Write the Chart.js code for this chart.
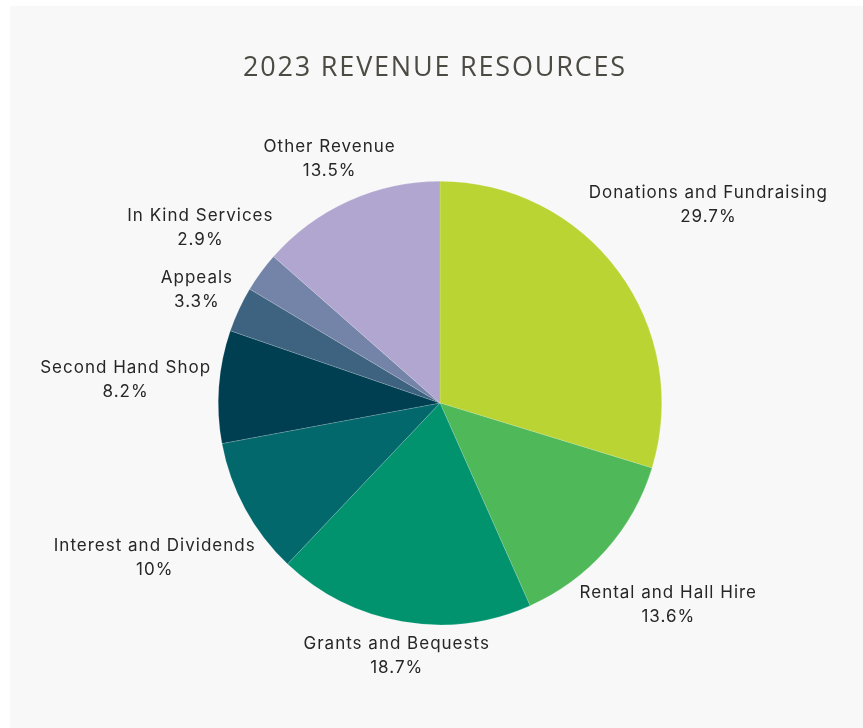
<!DOCTYPE html>
<html>
<head>
<meta charset="utf-8">
<script src="https://cdn.jsdelivr.net/npm/chart.js@4.4.1/dist/chart.umd.min.js"></script>
<style>
  html, body { margin: 0; padding: 0; background: #ffffff; }
  #panel {
    position: absolute; left: 10px; top: 6px;
    width: 853px; height: 722px;
    background: #f8f8f8;
  }
  canvas { display: block; }
</style>
</head>
<body>
<div id="panel"><canvas id="revenueChart" width="853" height="722"></canvas></div>
<script>
const categories = [
  "Donations and Fundraising",
  "Rental and Hall Hire",
  "Grants and Bequests",
  "Interest and Dividends",
  "Second Hand Shop",
  "Appeals",
  "In Kind Services",
  "Other Revenue"
];
const shares = [29.7, 13.6, 18.7, 10, 8.2, 3.3, 2.9, 13.5];
const sliceColors = [
  "#b9d433", "#4fb858", "#00936e", "#02686c",
  "#003f52", "#3e6380", "#7484a8", "#b1a6cf"
];
const chartTitle = "2023 REVENUE RESOURCES";

const labelFont = "17px Inter";
const labelSpacing = "1px";
const labelLine = 24;

// spaced-out title across the top
const spacedTitle = {
  id: 'spacedTitle',
  afterDraw(chart) {
    const ctx = chart.ctx;
    ctx.save();
    ctx.font = "27px 'Open Sans'";
    ctx.letterSpacing = "1.8px";
    ctx.fillStyle = "#4b4a43";
    ctx.textAlign = "center";
    ctx.textBaseline = "alphabetic";
    ctx.fillText(chartTitle, 425, 70);
    ctx.restore();
  }
};

// category name + percentage, placed outside each slice along its mid angle
const outsideLabels = {
  id: 'outsideLabels',
  afterDatasetsDraw(chart) {
    const ctx = chart.ctx;
    const meta = chart.getDatasetMeta(0);
    ctx.save();
    ctx.font = labelFont;
    ctx.letterSpacing = labelSpacing;
    ctx.fillStyle = "#262626";
    ctx.textAlign = "center";
    ctx.textBaseline = "middle";
    meta.data.forEach((arc, i) => {
      const p = arc.getProps(['x', 'y', 'startAngle', 'endAngle', 'outerRadius'], true);
      const mid = (p.startAngle + p.endAngle) / 2;
      const cx = Math.cos(mid), cy = Math.sin(mid);
      const lines = [categories[i], shares[i] + "%"];
      const w = Math.max(...lines.map(t => ctx.measureText(t).width));
      const h = labelLine * lines.length;
      // ink height is smaller than the line box, so pull labels in vertically
      const dist = p.outerRadius + Math.abs(cx) * (w / 2 + 6) + Math.abs(cy) * (h / 2 - 7) + 1;
      const x = p.x + cx * dist;
      const y = p.y + cy * dist;
      lines.forEach((t, k) => {
        ctx.fillText(t, x, y - h / 2 + labelLine * (k + 0.5));
      });
    });
    ctx.restore();
  }
};

const ctx = document.getElementById('revenueChart').getContext('2d');

new Chart(ctx, {
  type: 'pie',
  data: {
    labels: categories,
    datasets: [{
      data: shares,
      backgroundColor: sliceColors,
      borderColor: "rgba(255,255,255,0.3)",
      borderWidth: 0.5
    }]
  },
  options: {
    responsive: false,
    animation: false,
    layout: { padding: { top: 175, bottom: 103, left: 200, right: 193 } },
    plugins: {
      legend: { display: false },
      tooltip: { enabled: false },
      title: { display: false }
    }
  },
  plugins: [outsideLabels, spacedTitle]
});
</script>
</body>
</html>
